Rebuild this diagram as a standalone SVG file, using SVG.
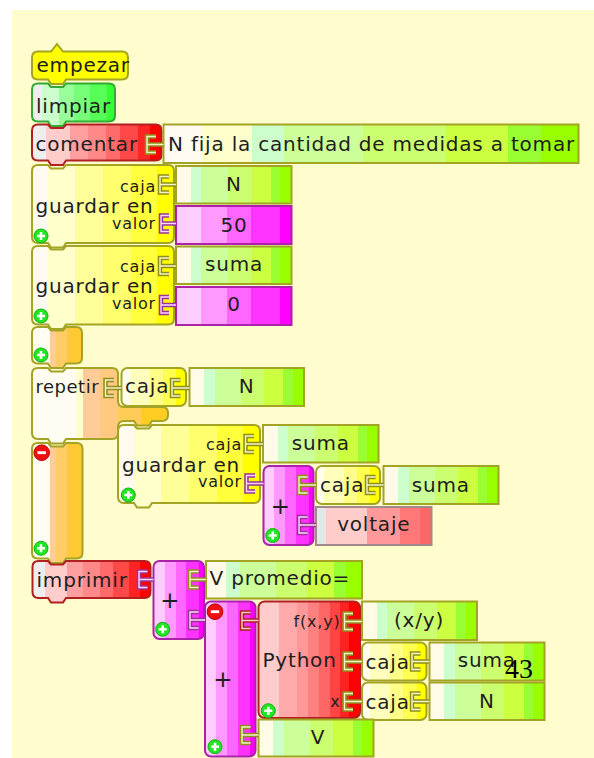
<svg xmlns="http://www.w3.org/2000/svg" width="594" height="758" viewBox="0 0 594 758">
<defs>
<linearGradient id="gY"><stop offset="0" stop-color="#fffaf0"/><stop offset=".11" stop-color="#fffaf0"/><stop offset=".11" stop-color="#ffffcc"/><stop offset=".3" stop-color="#ffffcc"/><stop offset=".3" stop-color="#ffff99"/><stop offset=".5" stop-color="#ffff99"/><stop offset=".5" stop-color="#ffff6e"/><stop offset=".7" stop-color="#ffff6e"/><stop offset=".7" stop-color="#ffff3c"/><stop offset=".88" stop-color="#ffff3c"/><stop offset=".88" stop-color="#ffff00"/><stop offset="1" stop-color="#ffff00"/></linearGradient>
<linearGradient id="gC"><stop offset="0" stop-color="#fffff0"/><stop offset=".13" stop-color="#fffff0"/><stop offset=".13" stop-color="#ffffbb"/><stop offset=".44" stop-color="#ffffbb"/><stop offset=".44" stop-color="#ffff88"/><stop offset=".64" stop-color="#ffff88"/><stop offset=".64" stop-color="#ffff50"/><stop offset=".85" stop-color="#ffff50"/><stop offset=".85" stop-color="#ffff00"/><stop offset="1" stop-color="#ffff00"/></linearGradient>
<linearGradient id="gG"><stop offset="0" stop-color="#fffbe6"/><stop offset=".13" stop-color="#fffbe6"/><stop offset=".13" stop-color="#ccffcc"/><stop offset=".22" stop-color="#ccffcc"/><stop offset=".22" stop-color="#ccff99"/><stop offset=".45" stop-color="#ccff99"/><stop offset=".45" stop-color="#ccff70"/><stop offset=".65" stop-color="#ccff70"/><stop offset=".65" stop-color="#ccff40"/><stop offset=".82" stop-color="#ccff40"/><stop offset=".82" stop-color="#99ff33"/><stop offset=".9" stop-color="#99ff33"/><stop offset=".9" stop-color="#99ff00"/><stop offset="1" stop-color="#99ff00"/></linearGradient>
<linearGradient id="gCm"><stop offset="0" stop-color="#fffbf0"/><stop offset=".093" stop-color="#fffbf0"/><stop offset=".093" stop-color="#ffffcc"/><stop offset=".214" stop-color="#ffffcc"/><stop offset=".214" stop-color="#ccffcc"/><stop offset=".29" stop-color="#ccffcc"/><stop offset=".29" stop-color="#ccff99"/><stop offset=".48" stop-color="#ccff99"/><stop offset=".48" stop-color="#ccff70"/><stop offset=".68" stop-color="#ccff70"/><stop offset=".68" stop-color="#ccff40"/><stop offset=".83" stop-color="#ccff40"/><stop offset=".83" stop-color="#99ff33"/><stop offset=".91" stop-color="#99ff33"/><stop offset=".91" stop-color="#99ff00"/><stop offset="1" stop-color="#99ff00"/></linearGradient>
<linearGradient id="gR"><stop offset="0" stop-color="#eeeeee"/><stop offset=".11" stop-color="#eeeeee"/><stop offset=".11" stop-color="#ffcccc"/><stop offset=".29" stop-color="#ffcccc"/><stop offset=".29" stop-color="#ff9f9f"/><stop offset=".43" stop-color="#ff9f9f"/><stop offset=".43" stop-color="#ff8888"/><stop offset=".57" stop-color="#ff8888"/><stop offset=".57" stop-color="#ff6a6a"/><stop offset=".68" stop-color="#ff6a6a"/><stop offset=".68" stop-color="#ff4848"/><stop offset=".82" stop-color="#ff4848"/><stop offset=".82" stop-color="#ff2424"/><stop offset=".91" stop-color="#ff2424"/><stop offset=".91" stop-color="#ff0000"/><stop offset="1" stop-color="#ff0000"/></linearGradient>
<linearGradient id="gP"><stop offset="0" stop-color="#ffcccc"/><stop offset=".2" stop-color="#ffcccc"/><stop offset=".2" stop-color="#ffaaaa"/><stop offset=".38" stop-color="#ffaaaa"/><stop offset=".38" stop-color="#ff9999"/><stop offset=".49" stop-color="#ff9999"/><stop offset=".49" stop-color="#ff8080"/><stop offset=".6" stop-color="#ff8080"/><stop offset=".6" stop-color="#ff6666"/><stop offset=".7" stop-color="#ff6666"/><stop offset=".7" stop-color="#ff4444"/><stop offset=".8" stop-color="#ff4444"/><stop offset=".8" stop-color="#ff2222"/><stop offset=".89" stop-color="#ff2222"/><stop offset=".89" stop-color="#ff0000"/><stop offset="1" stop-color="#ff0000"/></linearGradient>
<linearGradient id="gM"><stop offset="0" stop-color="#ffccff"/><stop offset=".22" stop-color="#ffccff"/><stop offset=".22" stop-color="#ff99ff"/><stop offset=".44" stop-color="#ff99ff"/><stop offset=".44" stop-color="#ff66ff"/><stop offset=".65" stop-color="#ff66ff"/><stop offset=".65" stop-color="#ff33ff"/><stop offset=".9" stop-color="#ff33ff"/><stop offset=".9" stop-color="#ff00ff"/><stop offset="1" stop-color="#ff00ff"/></linearGradient>
<linearGradient id="gO"><stop offset="0" stop-color="#fffcf2"/><stop offset=".36" stop-color="#fffcf2"/><stop offset=".36" stop-color="#ffcc99"/><stop offset=".48" stop-color="#ffcc99"/><stop offset=".48" stop-color="#ffcc66"/><stop offset=".69" stop-color="#ffcc66"/><stop offset=".69" stop-color="#ffc933"/><stop offset="1" stop-color="#ffc933"/></linearGradient>
<linearGradient id="gRep"><stop offset="0" stop-color="#fffcf2"/><stop offset=".32" stop-color="#fffcf2"/><stop offset=".32" stop-color="#ffffcc"/><stop offset=".375" stop-color="#ffffcc"/><stop offset=".375" stop-color="#ffcc99"/><stop offset=".5" stop-color="#ffcc99"/><stop offset=".5" stop-color="#ffc980"/><stop offset=".63" stop-color="#ffc980"/><stop offset=".63" stop-color="#ffcc55"/><stop offset=".8" stop-color="#ffcc55"/><stop offset=".8" stop-color="#ffcc22"/><stop offset="1" stop-color="#ffcc22"/></linearGradient>
<linearGradient id="gL"><stop offset="0" stop-color="#eeeeee"/><stop offset=".12" stop-color="#eeeeee"/><stop offset=".12" stop-color="#ccffcc"/><stop offset=".32" stop-color="#ccffcc"/><stop offset=".32" stop-color="#99ff99"/><stop offset=".5" stop-color="#99ff99"/><stop offset=".5" stop-color="#77ff77"/><stop offset=".7" stop-color="#77ff77"/><stop offset=".7" stop-color="#55ff55"/><stop offset=".9" stop-color="#55ff55"/><stop offset=".9" stop-color="#33ff33"/><stop offset="1" stop-color="#33ff33"/></linearGradient>
<linearGradient id="gV"><stop offset="0" stop-color="#e6e6e6"/><stop offset=".09" stop-color="#e6e6e6"/><stop offset=".09" stop-color="#ffcccc"/><stop offset=".44" stop-color="#ffcccc"/><stop offset=".44" stop-color="#ff9999"/><stop offset=".73" stop-color="#ff9999"/><stop offset=".73" stop-color="#ff7777"/><stop offset=".9" stop-color="#ff7777"/><stop offset=".9" stop-color="#ff6666"/><stop offset="1" stop-color="#ff6666"/></linearGradient>
<g id="plusIcon"><circle r="7" fill="#22e622" stroke="#14b014" stroke-width="1"/><path d="M-4,0H4M0,-4V4" stroke="#fff" stroke-width="2.6"/></g>
<g id="minusIcon"><circle r="7.8" fill="#ee1111" stroke="#bb0000" stroke-width="1"/><path d="M-4.2,0H4.2" stroke="#fff" stroke-width="2.8"/></g>
</defs>
<style>
text{font-family:"DejaVu Sans","Liberation Sans",sans-serif;fill:#1e1e1e}
.t{font-size:20px;letter-spacing:0.8px}
.s{font-size:16px;letter-spacing:0.8px}
.r{font-size:18px;letter-spacing:0.5px}
.pl{font-size:23px}
.m{text-anchor:middle}
.e{text-anchor:end}
.ol{stroke:#a3a326;stroke-width:2}
.rd{stroke:#b02020;stroke-width:2}
.mg{stroke:#aa22aa;stroke-width:2}
.gn{stroke:#33aa33;stroke-width:2}
.vt{stroke:#a08a8a;stroke-width:2}
.co{fill:none;stroke-width:4.5}
.ci{fill:none;stroke-width:1.4}
</style>
<rect x="12" y="10" width="582" height="748" fill="#fffdcd"/>

<g id="empezar"><path d="M32,57.5Q32,51.5 38,51.5H51L57,44L63,51.5H122Q128,51.5 128,57.5V73.5Q128,79.5 122,79.5H66L63,84H51L48,79.5H38Q32,79.5 32,73.5Z" fill="#ffff00" class="ol"/><text class="t" x="36.5" y="72">empezar</text></g>

<g id="limpiar"><path d="M32,89.5Q32,83.5 38,83.5H48L51,87H63L66,83.5H109Q115,83.5 115,89.5V115.5Q115,121.5 109,121.5H66L63,126H51L48,121.5H38Q32,121.5 32,115.5Z" fill="url(#gL)" class="gn"/><text class="t" x="36" y="112.5">limpiar</text></g>

<g id="comentar"><path d="M32,130.5Q32,124.5 38,124.5H48L51,128H63L66,124.5H155.5Q161.5,124.5 161.5,130.5V154.5Q161.5,160.5 155.5,160.5H66L63,165H51L48,160.5H38Q32,160.5 32,154.5Z" fill="url(#gR)" class="rd"/><text class="t" x="35.5" y="150.5">comentar</text></g>
<g id="comentario"><rect x="163.5" y="124.5" width="415" height="38.5" fill="url(#gCm)" class="ol"/><text class="t" x="168" y="150.5">N fija la cantidad de medidas a tomar</text></g>

<g id="guardar1"><path d="M32,171Q32,165 38,165H48L51,168.5H63L66,165H168Q174,165 174,171V237Q174,243 168,243H66L63,247.5H51L48,243H38Q32,243 32,237Z" fill="url(#gY)" class="ol"/><text class="s e" x="156" y="191.5">caja</text><text class="t" x="35.5" y="213">guardar en</text><text class="s e" x="156" y="228.5">valor</text><use href="#plusIcon" x="41" y="236"/></g>
<g id="n1"><rect x="176" y="166" width="115.5" height="37.5" fill="url(#gG)" class="ol"/><text class="t m" x="234" y="191">N</text></g>
<g id="v50"><rect x="176" y="206" width="115.5" height="38" fill="url(#gM)" class="mg"/><text class="t m" x="234" y="232">50</text></g>

<g id="guardar2"><path d="M32,252Q32,246 38,246H48L51,249.5H63L66,246H168Q174,246 174,252V318.5Q174,324.5 168,324.5H66L63,329H51L48,324.5H38Q32,324.5 32,318.5Z" fill="url(#gY)" class="ol"/><text class="s e" x="156" y="271.5">caja</text><text class="t" x="35.5" y="293">guardar en</text><text class="s e" x="156" y="308.5">valor</text><use href="#plusIcon" x="41" y="316"/></g>
<g id="suma1"><rect x="176" y="246.5" width="115.5" height="37.5" fill="url(#gG)" class="ol"/><text class="t m" x="234" y="271">suma</text></g>
<g id="v0"><rect x="176" y="287" width="115.5" height="38" fill="url(#gM)" class="mg"/><text class="t m" x="234" y="311">0</text></g>

<g id="bloque"><path d="M32,333Q32,327 38,327H48L51,330.5H63L66,327H76Q82,327 82,333V357.5Q82,363.5 76,363.5H66L63,368H51L48,363.5H38Q32,363.5 32,357.5Z" fill="url(#gO)" class="ol"/><use href="#plusIcon" x="41" y="355"/></g>

<g id="repetir"><path d="M32,374Q32,368 38,368H48L51,371.5H63L66,368H112Q118,368 118,374V401Q118,407 124,407H162Q168,407 168,413V415Q168,421 162,421H152L149,425.5H137L134,421H124Q118,421 118,427V433Q118,439 112,439H66L63,443.5H51L48,439H38Q32,439 32,433Z" fill="url(#gRep)" class="ol"/><text class="r" x="35.5" y="392.5">repetir</text></g>
<g id="caja-rep"><rect x="121.5" y="368" width="64.5" height="38" rx="6" fill="url(#gC)" class="ol"/><text class="t" x="125" y="393">caja</text></g>
<g id="n2"><rect x="189.5" y="368" width="114.5" height="38" fill="url(#gG)" class="ol"/><text class="t m" x="246.7" y="393">N</text></g>

<g id="guardar3"><path d="M118,431Q118,425 124,425H134L137,428.5H149L152,425H254Q260,425 260,431V497Q260,503 254,503H152L149,507.5H137L134,503H124Q118,503 118,497Z" fill="url(#gY)" class="ol"/><text class="s e" x="242" y="450">caja</text><text class="t" x="122" y="471.5">guardar en</text><text class="s e" x="242" y="486.5">valor</text><use href="#plusIcon" x="128.3" y="495"/></g>
<g id="suma2"><rect x="263" y="425" width="115.5" height="37.5" fill="url(#gG)" class="ol"/><text class="t m" x="320.8" y="449.5">suma</text></g>
<g id="mas1"><rect x="263.5" y="466" width="50" height="79" rx="6" fill="url(#gM)" class="mg"/><text class="pl m" x="280.5" y="514">+</text><use href="#plusIcon" x="272.7" y="535.5"/></g>
<g id="caja-n"><rect x="316" y="466" width="64" height="38" rx="6" fill="url(#gC)" class="ol"/><text class="t" x="320" y="491.5">caja</text></g>
<g id="suma3"><rect x="383.5" y="466" width="115" height="38" fill="url(#gG)" class="ol"/><text class="t m" x="440.8" y="491.5">suma</text></g>
<g id="voltaje"><rect x="316" y="507" width="115.5" height="38" fill="url(#gV)" class="vt"/><text class="t m" x="373.8" y="531">voltaje</text></g>

<g id="bloque2"><path d="M32,449Q32,443 38,443H48L51,446.5H63L66,443H76.5Q82.5,443 82.5,449V552.5Q82.5,558.5 76.5,558.5H66L63,563H51L48,558.5H38Q32,558.5 32,552.5Z" fill="url(#gO)" class="ol"/><use href="#minusIcon" x="41.7" y="452.7"/><use href="#plusIcon" x="41" y="548.3"/></g>

<g id="imprimir"><path d="M32.5,567Q32.5,561 38.5,561H48L51,564.5H63L66,561H144.5Q150.5,561 150.5,567V592Q150.5,598 144.5,598H66L63,602.5H51L48,598H38.5Q32.5,598 32.5,592Z" fill="url(#gR)" class="rd"/><text class="t" x="36.5" y="586.5">imprimir</text></g>
<g id="mas2"><rect x="153.5" y="561" width="50.5" height="78" rx="6" fill="url(#gM)" class="mg"/><text class="pl m" x="170" y="608">+</text><use href="#plusIcon" x="162.7" y="629.3"/></g>
<g id="vpromedio"><rect x="206" y="561" width="156" height="37.5" fill="url(#gG)" class="ol"/><text class="t" x="209.5" y="585">V promedio=</text></g>
<g id="mas3"><rect x="205" y="601.5" width="50.5" height="155" rx="6" fill="url(#gM)" class="mg"/><text class="pl m" x="223" y="687">+</text><use href="#minusIcon" x="215" y="611.7"/><use href="#plusIcon" x="215" y="746.7"/></g>
<g id="python"><rect x="258.5" y="601.5" width="101.5" height="116.5" rx="6" fill="url(#gP)" class="rd"/><text class="s e" x="340.5" y="627">f(x,y)</text><text class="t" x="262.5" y="667">Python</text><text class="s e" x="340.5" y="706.5">x</text><use href="#plusIcon" x="268.3" y="710.7"/></g>
<g id="xy"><rect x="362" y="601.5" width="115" height="38.5" fill="url(#gG)" class="ol"/><text class="t m" x="419" y="627">(x/y)</text></g>
<g id="caja1"><rect x="362" y="642.5" width="64.5" height="38" rx="6" fill="url(#gC)" class="ol"/><text class="t" x="365.5" y="668.5">caja</text></g>
<g id="suma4"><rect x="429.5" y="642.5" width="115" height="38" fill="url(#gG)" class="ol"/><text class="t m" x="486.8" y="667">suma</text></g>
<g id="caja2"><rect x="362" y="682.5" width="64.5" height="37.5" rx="6" fill="url(#gC)" class="ol"/><text class="t" x="365.5" y="708.5">caja</text></g>
<g id="n3"><rect x="429.5" y="682.5" width="115" height="37.5" fill="url(#gG)" class="ol"/><text class="t m" x="486.8" y="707.5">N</text></g>
<g id="v"><rect x="258.5" y="719.5" width="115" height="37" fill="url(#gG)" class="ol"/><text class="t m" x="318" y="744">V</text></g>

<g id="connectors">
<g id="conn-olive">
<path class="co" stroke="#8f8f18" d="M156,136.5H147V152.5H156M147,144.5H163.5M169,176.5H160V192.5H169M160,184.5H176M169,258H160V274H169M160,266H176M114,380H105.5V396H114M105.5,388H121.5M180.5,380H172V396H180.5M172,388H189.5M254,436H245.5V452H254M245.5,444H263M307.5,477H299V493H307.5M299,485H316M375.5,477H367V493H375.5M367,485H383.5M198.5,571.5H190V587.5H198.5M190,579.5H206M353,613.5H344.5V629.5H353M344.5,621.5H362M353,653.5H344.5V669.5H353M344.5,661.5H362M420.5,653.5H412V669.5H420.5M412,661.5H429.5M353,693.5H344.5V709.5H353M344.5,701.5H362M420.5,693.5H412V709.5H420.5M412,701.5H429.5M250.5,727H242V743H250.5M242,735H258.5"/>
<path class="ci" stroke="#f4f4cc" d="M156,136.5H147V152.5H156M147,144.5H163.5M169,176.5H160V192.5H169M160,184.5H176M169,258H160V274H169M160,266H176M114,380H105.5V396H114M105.5,388H121.5M180.5,380H172V396H180.5M172,388H189.5M254,436H245.5V452H254M245.5,444H263M307.5,477H299V493H307.5M299,485H316M375.5,477H367V493H375.5M367,485H383.5M198.5,571.5H190V587.5H198.5M190,579.5H206M353,613.5H344.5V629.5H353M344.5,621.5H362M353,653.5H344.5V669.5H353M344.5,661.5H362M420.5,653.5H412V669.5H420.5M412,661.5H429.5M353,693.5H344.5V709.5H353M344.5,701.5H362M420.5,693.5H412V709.5H420.5M412,701.5H429.5M250.5,727H242V743H250.5M242,735H258.5"/>
</g>
<g id="conn-purple">
<path class="co" stroke="#993399" d="M169,215.5H161V231.5H169M161,223.5H176M169,297H161V313H169M161,305H176M255,475.5H246.5V491.5H255M246.5,483.5H263.5M307.5,517H299V533H307.5M299,525H316M147.5,571.5H139V587.5H147.5M139,579.5H153.5M198.5,612H190V628H198.5M190,620H205"/>
<path class="ci" stroke="#ffd6ff" d="M169,215.5H161V231.5H169M161,223.5H176M169,297H161V313H169M161,305H176M255,475.5H246.5V491.5H255M246.5,483.5H263.5M307.5,517H299V533H307.5M299,525H316M147.5,571.5H139V587.5H147.5M139,579.5H153.5M198.5,612H190V628H198.5M190,620H205"/>
</g>
<g id="conn-red">
<path class="co" stroke="#aa2222" d="M250.5,612.5H242V628.5H250.5M242,620.5H258.5"/>
<path class="ci" stroke="#ffc8c8" d="M250.5,612.5H242V628.5H250.5M242,620.5H258.5"/>
</g>
</g>

<text x="505" y="678" style="font-family:'Liberation Serif',serif;font-size:28px;fill:#000">43</text>
</svg>
